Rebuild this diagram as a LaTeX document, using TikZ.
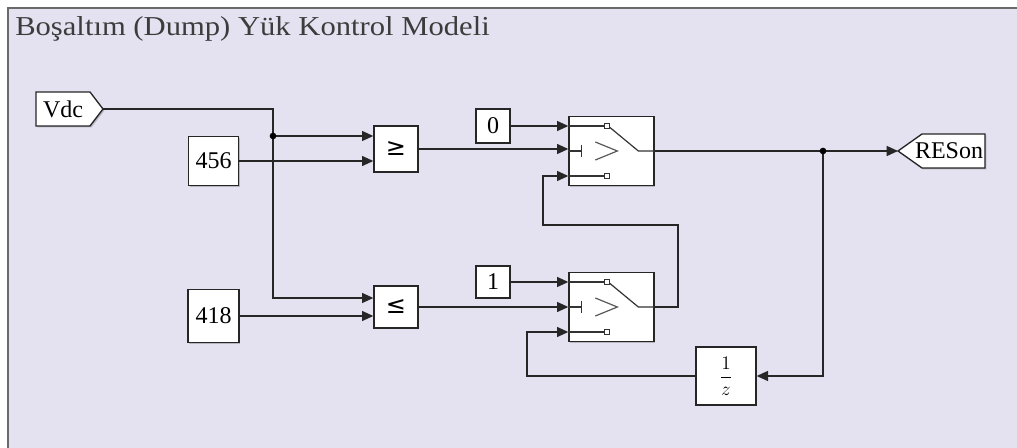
\documentclass[tikz,border=0pt]{standalone}
\usepackage{fontspec}
\setmainfont{Liberation Serif}
\newfontfamily\symfont{DejaVu Sans}
\newfontfamily\titlefont[FakeStretch=1.12]{Liberation Serif}
\usetikzlibrary{positioning,arrows.meta,calc,shadows}

\definecolor{areabg}{HTML}{E4E2F1}
\definecolor{framegray}{HTML}{6A6A6A}
\definecolor{titlegray}{HTML}{3C3C3C}

\begin{document}
\begin{tikzpicture}[
  x=0.75pt,y=-0.75pt,
  blk/.style={draw=black!85,fill=white,line width=1pt,inner sep=0pt,
    drop shadow={shadow xshift=1.1pt,shadow yshift=-1.1pt,opacity=0.45},
    font=\fontsize{18}{20}\selectfont},
  tagshape/.style={draw=black!85,fill=white,line width=1pt,
    drop shadow={shadow xshift=1.1pt,shadow yshift=-1.1pt,opacity=0.45}},
  lbl/.style={inner sep=0pt,font=\fontsize{18}{20}\selectfont},
  wire/.style={draw=black!85,line width=1.05pt},
  arr/.style={wire,-{Triangle[length=8.5pt,width=7.5pt]}},
  icon/.style={draw=black!80,line width=0.9pt},
  dot/.style={circle,fill=black,inner sep=0pt,minimum size=5pt}
]
\useasboundingbox (0,0) rectangle (1017,448);
\fill[white] (0,0) rectangle (1017,448);
\fill[areabg] (8,8) rectangle (1017,448);
\draw[framegray,line width=1.4pt] (1017,8) -- (8,8) -- (8,448);

\node[anchor=base west,inner sep=0pt,text=titlegray,font=\titlefont\fontsize{20.5}{24}\selectfont]
  (title) at (15,36) {Boşaltım (Dump) Yük Kontrol Modeli};

% from / goto tags
\draw[tagshape] (36,92) -- (90,92) -- (103,109) -- (90,126) -- (36,126) -- cycle;
\node[lbl] (vdctxt) at (63,109) {Vdc};
\coordinate (vdc) at (103,109);
\draw[tagshape] (898,151) -- (922,134) -- (985,134) -- (985,168) -- (922,168) -- cycle;
\node[lbl] (restxt) at (949,151) {RESon};
\coordinate (reson) at (898,151);

% blocks
\node[blk,minimum width=37.5pt,minimum height=36.75pt] (c456) at (213.5,161) {456};
\node[blk,minimum width=38.25pt,minimum height=39.75pt] (c418) at (213.5,316) {418};
\node[blk,minimum width=33pt,minimum height=34.5pt,font=\symfont\fontsize{18}{20}\selectfont] (ge) at (396,149) {≥};
\node[blk,minimum width=33pt,minimum height=31.5pt,font=\symfont\fontsize{18}{20}\selectfont] (le) at (396,307) {≤};
\node[blk,minimum width=25.5pt,minimum height=25.5pt] (c0) at (493,126) {0};
\node[blk,minimum width=25.5pt,minimum height=24pt] (c1) at (493,282) {1};
\node[blk,minimum width=63.75pt,minimum height=51.75pt] (sw1) at (611.5,151) {};
\node[blk,minimum width=63.75pt,minimum height=51.75pt] (sw2) at (611.5,307) {};
\node[blk,minimum width=45pt,minimum height=43.5pt,font=\fontsize{14}{16}\selectfont] (ud) at (726,376) {$\displaystyle\frac{1}{z}$};

% switch icons
\foreach \s in {sw1,sw2} {
  \draw[icon] ($(\s.west)+(0,-25)$) -- ++(36,0);
  \draw[icon,fill=white] ($(\s.west)+(36,-27.5)$) rectangle ++(5,5);
  \draw[icon] ($(\s.west)+(41,-24)$) -- ($(\s.west)+(70,0)$) -- (\s.east);
  \draw[icon] (\s.west) -- ++(13,0);
  \draw[icon] ($(\s.west)+(13,-6)$) -- ++(0,12);
  \draw[icon,black!65] ($(\s.west)+(27,-9)$) -- ++(22,9) -- ++(-22,9);
  \draw[icon] ($(\s.west)+(0,25)$) -- ++(36,0);
  \draw[icon,fill=white] ($(\s.west)+(36,22.5)$) rectangle ++(5,5);
}

% named ports and bends
\coordinate (j1) at (273,136);
\coordinate (j2) at (823,151);
\coordinate (sw1c) at ($(sw1.west)+(0,25)$);
\coordinate (sw2c) at ($(sw2.west)+(0,25)$);
\coordinate (fb1) at (678,225);
\coordinate (fb2) at (543,225);
\coordinate (fb3) at (527,376);

% connectors
\draw[wire] (vdc) -| (j1);
\draw[arr] (j1) -- (j1 -| ge.west);
\draw[arr] (j1) |- ($(le.west)+(0,-9)$);
\draw[arr] (c456) -- (c456 -| ge.west);
\draw[arr] (c418) -- (c418 -| le.west);
\draw[arr] (ge) -- (ge -| sw1.west);
\draw[arr] (le) -- (le -| sw2.west);
\draw[arr] (c0) -- (c0 -| sw1.west);
\draw[arr] (c1) -- (c1 -| sw2.west);
\draw[arr] (sw2.east) -| (fb1) -- (fb2) |- (sw1c);
\draw[arr] (sw1.east) -- (j2) -- (reson);
\draw[arr] (j2) |- (ud.east);
\draw[arr] (ud.west) -- (fb3) |- (sw2c);
\node[dot] at (j1) {};
\node[dot] at (j2) {};
\end{tikzpicture}
\end{document}
